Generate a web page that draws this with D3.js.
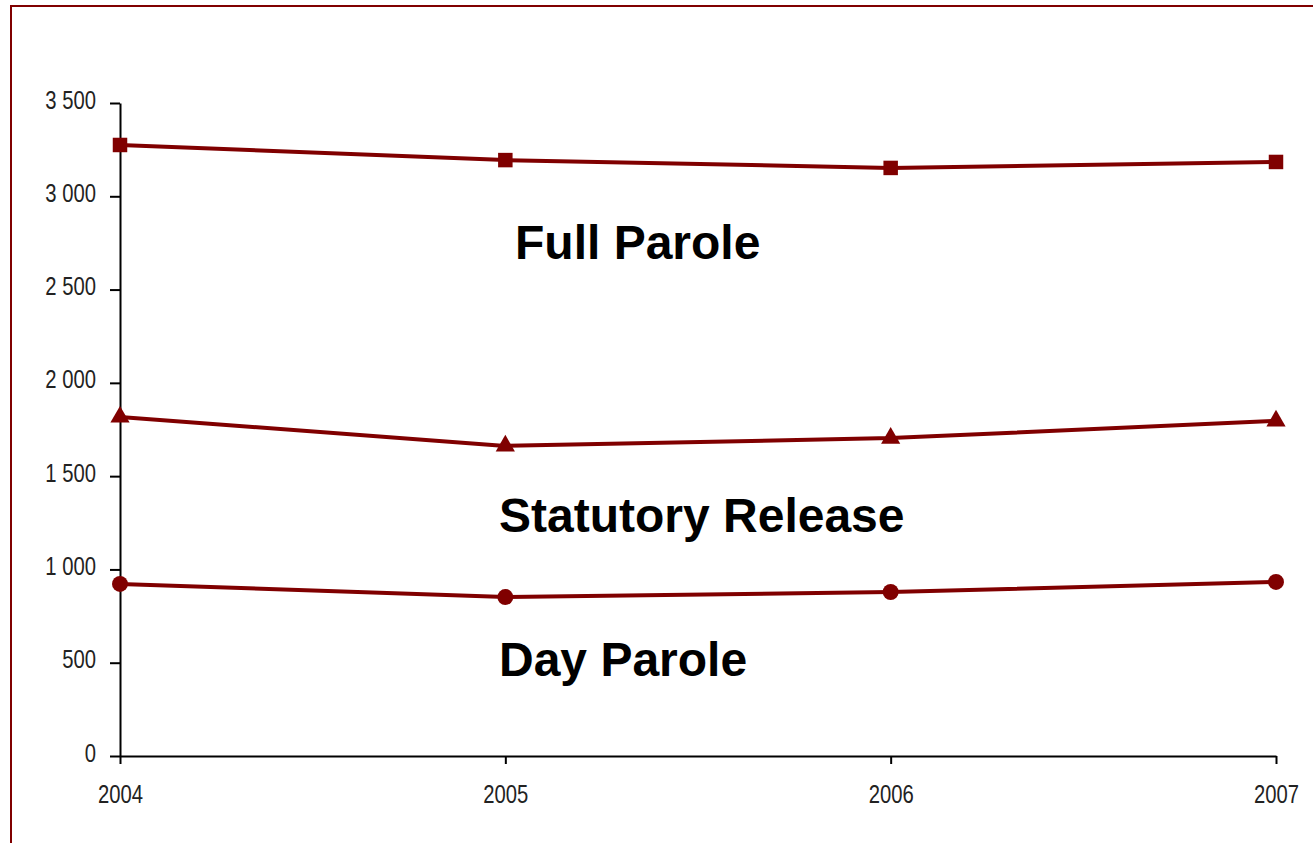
<!DOCTYPE html>
<meta charset="utf-8">
<style>
body { margin: 0; background: #fff; }
.axis text { font-family: "Liberation Sans", Arial, sans-serif; font-size: 25px; fill: #222; }
.label { font-family: "Liberation Sans", Arial, sans-serif; font-weight: bold; font-size: 48px; fill: #000; }
</style>
<svg width="1313" height="843"></svg>
<script src="https://d3js.org/d3.v7.min.js"></script>
<script>

var years = [2004, 2005, 2006, 2007];
var fullParole = [3275, 3194, 3152, 3184];
var statutoryRelease = [1817, 1662, 1704, 1796];
var dayParole = [922, 852, 879, 933];
var yTicks = [0, 500, 1000, 1500, 2000, 2500, 3000, 3500];

var series = [
  {name: "Full Parole", values: fullParole, symbol: d3.symbolSquare, size: 210},
  {name: "Statutory Release", values: statutoryRelease, symbol: d3.symbolTriangle, size: 160},
  {name: "Day Parole", values: dayParole, symbol: d3.symbolCircle, size: 200}
];

var svg = d3.select("svg"),
    red = "#800000",
    narrow = 0.81; // squeeze tick labels to look like a narrow face

// outer frame, runs off the right and bottom of the page
svg.append("rect")
    .attr("x", 11).attr("y", 6)
    .attr("width", 1400).attr("height", 900)
    .attr("fill", "none")
    .attr("stroke", red)
    .attr("stroke-width", 2);

var x = d3.scaleLinear().domain([2004, 2007]).range([120, 1276]);
var y = d3.scaleLinear().domain([0, 3500]).range([756, 103]);

var fmt = function(d) { return d3.format(",")(d).replace(",", " "); };

svg.append("g")
    .attr("class", "axis")
    .attr("transform", "translate(120,0)")
    .call(d3.axisLeft(y).tickValues(yTicks).tickFormat(fmt).tickSizeInner(10).tickSizeOuter(0).tickPadding(14))
    .call(function(g) { g.selectAll("line, path").attr("stroke", "#000").attr("stroke-width", 2); })
    .call(function(g) {
      g.selectAll("text")
        .attr("dy", "0.2em")
        .attr("x", -24 / narrow)
        .attr("transform", "scale(" + narrow + ",1)");
    });

svg.append("g")
    .attr("class", "axis")
    .attr("transform", "translate(0,756)")
    .call(d3.axisBottom(x).tickValues(years).tickFormat(d3.format("d")).tickSizeInner(8).tickSizeOuter(0).tickPadding(21))
    .call(function(g) { g.selectAll("line, path").attr("stroke", "#000").attr("stroke-width", 2); })
    .call(function(g) { g.selectAll("text").attr("transform", "scale(" + narrow + ",1)"); });

var line = d3.line()
    .x(function(d, i) { return x(years[i]); })
    .y(function(d) { return y(d); });

series.forEach(function(s) {
  svg.append("path")
      .attr("d", line(s.values))
      .attr("fill", "none")
      .attr("stroke", red)
      .attr("stroke-width", 4);

  svg.selectAll(null)
      .data(s.values)
      .enter().append("path")
      .attr("transform", function(d, i) { return "translate(" + x(years[i]) + "," + y(d) + ")"; })
      .attr("d", d3.symbol().type(s.symbol).size(s.size))
      .attr("fill", red);
});

// series names written on the chart
svg.append("text").attr("class", "label").attr("x", 515).attr("y", 259).text("Full Parole");
svg.append("text").attr("class", "label").attr("x", 499).attr("y", 532).text("Statutory Release");
svg.append("text").attr("class", "label").attr("x", 499).attr("y", 676).text("Day Parole");

</script>
